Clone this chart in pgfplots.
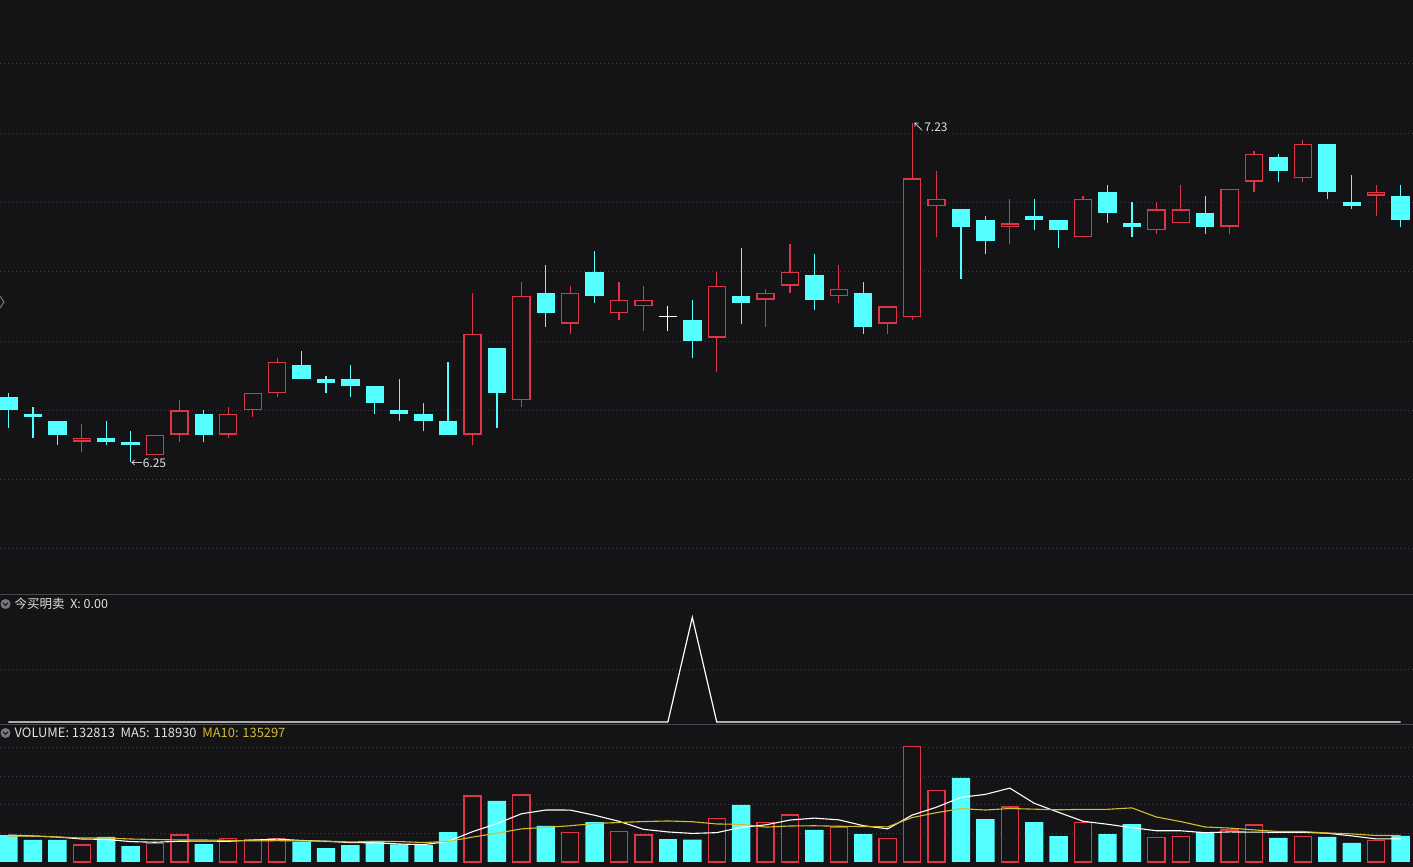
\documentclass[border=0pt]{standalone}
\usepackage{pgfplots}
\pgfplotsset{compat=1.18}
\usepackage{pgfplotstable}
\usepackage{fontspec}
\newfontfamily\cjk{Noto Sans CJK SC}
\definecolor{bg}{RGB}{20,19,21}
\definecolor{upc}{RGB}{222,52,72}
\definecolor{dnc}{RGB}{84,255,255}
\definecolor{gridc}{RGB}{60,60,64}
\definecolor{sepc}{RGB}{72,72,76}
\definecolor{txt}{RGB}{225,225,225}
\definecolor{ma10c}{RGB}{212,188,48}
\definecolor{iconc}{RGB}{120,120,124}

% i open high low close volume
\pgfplotstableread{
i o h l c v
3 6.31 6.36 6.28 6.32 86800
6 6.27 6.33 6.27 6.33 95500
7 6.33 6.43 6.31 6.40 137900
9 6.33 6.41 6.32 6.39 121100
10 6.40 6.45 6.38 6.45 112400
11 6.45 6.55 6.44 6.54 121100
19 6.33 6.74 6.30 6.62 337100
21 6.43 6.77 6.41 6.73 342200
23 6.65 6.76 6.62 6.74 151700
25 6.68 6.77 6.66 6.72 156800
26 6.70 6.76 6.63 6.72 137900
29 6.61 6.80 6.51 6.76 223200
31 6.72 6.75 6.64 6.74 202800
32 6.76 6.88 6.74 6.80 240100
34 6.73 6.82 6.71 6.75 178800
36 6.65 6.70 6.62 6.70 121100
37 6.67 7.23 6.66 7.07 591000
38 6.99 7.09 6.90 7.01 366200
41 6.93 7.01 6.88 6.94 280900
44 6.90 7.02 6.90 7.01 202800
47 6.92 7.00 6.91 6.98 126200
48 6.94 7.05 6.94 6.98 131300
50 6.93 7.04 6.91 7.04 163500
51 7.06 7.15 7.03 7.14 189000
53 7.07 7.18 7.06 7.17 131300
56 7.02 7.05 6.96 7.03 110800
}\uptab

\pgfplotstableread{
i o h l c v
0 6.44 6.45 6.35 6.40 137900
1 6.39 6.41 6.32 6.38 112400
2 6.37 6.37 6.30 6.33 112400
4 6.32 6.37 6.30 6.31 127700
5 6.31 6.34 6.25 6.30 81700
8 6.39 6.40 6.31 6.33 91900
12 6.53 6.57 6.49 6.49 103700
13 6.49 6.50 6.45 6.48 71500
14 6.49 6.53 6.44 6.47 86800
15 6.47 6.47 6.39 6.42 107300
16 6.40 6.49 6.37 6.39 90400
17 6.39 6.42 6.34 6.37 86800
18 6.37 6.54 6.33 6.33 153200
20 6.58 6.58 6.35 6.45 311600
22 6.74 6.82 6.64 6.68 183900
24 6.80 6.86 6.71 6.73 204300
28 6.66 6.72 6.55 6.60 113900
30 6.73 6.87 6.65 6.71 291200
33 6.79 6.85 6.69 6.72 163500
35 6.74 6.77 6.62 6.64 143000
39 6.98 6.98 6.78 6.93 429100
40 6.95 6.96 6.85 6.89 219600
42 6.96 7.01 6.92 6.95 204300
43 6.95 6.95 6.87 6.92 132800
45 7.03 7.05 6.94 6.97 143000
46 6.94 7.00 6.90 6.93 194100
49 6.97 7.02 6.91 6.93 153200
52 7.13 7.14 7.06 7.09 122600
54 7.17 7.17 7.01 7.03 127700
55 7.00 7.08 6.98 6.99 97100
57 7.02 7.05 6.93 6.95 132813
}\dntab

\pgfplotstableread{
i o h l c v
27 6.67 6.70 6.63 6.67 117500
}\dojitab

\pgfplotstableread{
i ma5 ma10
0 137900 132800
1 132800 132800
2 127700 127700
3 117500 122600
4 115400 122600
5 104200 117500
6 100800 114900
7 105900 112400
8 107000 112400
9 105600 110500
10 111800 108000
11 116900 108900
12 110000 108000
13 105900 106500
14 99100 102400
15 98100 104900
16 91900 104400
17 88600 99300
18 104900 105400
19 155000 127000
20 195800 147000
21 246200 169100
22 265600 177100
23 265300 185100
24 238700 196900
25 207800 201800
26 166900 206600
27 153600 209600
28 146100 205700
29 149900 194300
30 176700 192300
31 189700 178300
32 214200 183900
33 224100 185100
34 215300 182600
35 185600 181200
36 169300 179500
37 239500 226800
38 280000 252100
39 330100 272700
40 345400 265500
41 377400 273300
42 300000 269800
43 253400 266700
44 208100 269100
45 192800 269100
46 175400 276400
47 159800 229900
48 159500 206400
49 149600 178800
50 153600 173200
51 152600 164000
52 151900 155800
53 151900 155700
54 146800 148200
55 133500 143600
56 117900 135300
57 118930 135297
}\matab

\pgfplotsset{
  panel/.style={
    scale only axis, width=1413pt,
    xmin=-0.348, xmax=57.51,
    axis line style={draw=none},
    major tick length=0pt, tick style={draw=none},
    xtick=\empty, yticklabels={},
    scaled y ticks=false, scaled x ticks=false,
    ymajorgrids,
    grid style={gridc, line width=1pt, dash pattern=on 1pt off 3pt},
  },
  wick/.style={draw=none, mark=none, no markers,
    error bars/.cd, y dir=plus, y explicit, error mark=none,
    error bar style={line width=1.2pt, draw=#1, solid}},
  body/.style 2 args={draw=none, mark=none, no markers,
    error bars/.cd, y dir=plus, y explicit, error mark=none,
    error bar style={line width=#1, draw=#2, solid}},
}

\begin{document}
\begin{tikzpicture}[x=1pt,y=1pt]
\fill[bg] (0,0) rectangle (1413,867);
\useasboundingbox (0,0) rectangle (1413,867);

% ---------------- price panel ----------------
\begin{axis}[panel, at={(0pt,272pt)}, anchor=south west, height=595pt,
  ymin=5.8672, ymax=7.5844, ytick={6.0,6.2,6.4,6.6,6.8,7.0,7.2,7.4}]
  % wicks
  \addplot[wick=dnc] table[x=i, y=l, y error plus expr=\thisrow{h}-\thisrow{l}] \dntab;
  \addplot[wick=upc] table[x=i, y=l, y error plus expr=\thisrow{h}-\thisrow{l}] \uptab;
  \addplot[wick=white] table[x=i, y=l, y error plus expr=\thisrow{h}-\thisrow{l}] \dojitab;
  % bodies
  \addplot[body={18.4pt}{dnc}] table[x=i, y=c, y error plus expr=\thisrow{o}-\thisrow{c}] \dntab;
  \addplot[body={18.4pt}{upc}] table[x=i, y=o, y error plus expr=\thisrow{c}-\thisrow{o}] \uptab;
  \addplot[body={15.8pt}{bg}] table[x=i, y expr=\thisrow{o}+0.0037, y error plus expr=\thisrow{c}-\thisrow{o}-0.0074] \uptab;
  \addplot[white, only marks, mark=-, mark size=9.2pt, mark options={line width=1.2pt}] table[x=i, y=o] \dojitab;
  % extreme labels
  \node[anchor=west, inner sep=0pt, text=txt, font=\cjk\fontsize{12}{12}\selectfont] at (axis cs:5,6.2485) {←6.25};
  \node[anchor=west, inner sep=0pt, text=txt, font=\cjk\fontsize{12}{12}\selectfont] at (axis cs:37,7.2165) {↖7.23};
\end{axis}

% ---------------- indicator panel ----------------
\begin{axis}[panel, at={(0pt,142pt)}, anchor=south west, height=130pt,
  ymin=-0.0287, ymax=1.213, ytick={0.5}]
  \addplot[white, line width=1.2pt, mark=none, no markers] coordinates {
   (0,0) (1,0) (2,0) (3,0) (4,0) (5,0) (6,0) (7,0) (8,0) (9,0)
   (10,0) (11,0) (12,0) (13,0) (14,0) (15,0) (16,0) (17,0) (18,0) (19,0)
   (20,0) (21,0) (22,0) (23,0) (24,0) (25,0) (26,0) (27,0) (28,1) (29,0)
   (30,0) (31,0) (32,0) (33,0) (34,0) (35,0) (36,0) (37,0) (38,0) (39,0)
   (40,0) (41,0) (42,0) (43,0) (44,0) (45,0) (46,0) (47,0) (48,0) (49,0)
   (50,0) (51,0) (52,0) (53,0) (54,0) (55,0) (56,0) (57,0)};
\end{axis}

% ---------------- volume panel ----------------
\begin{axis}[panel, at={(0pt,0pt)}, anchor=south west, height=142pt,
  ymin=-25540, ymax=699800, ytick={145600,291200,436800,582400}]
  \addplot[ybar, bar width=18.4pt, bar shift=0pt, fill=dnc, draw=none] table[x=i, y=v] \dntab;
  \addplot[ybar, bar width=18.4pt, bar shift=0pt, fill=dnc, draw=none] table[x=i, y=v] \dojitab;
  \addplot[ybar, bar width=17.1pt, bar shift=0pt, fill=bg, draw=upc, line width=1.3pt] table[x=i, y=v] \uptab;
  \addplot[white, line width=1.1pt, mark=none, no markers] table[x=i, y=ma5] \matab;
  \addplot[ma10c, line width=1.1pt, mark=none, no markers] table[x=i, y=ma10] \matab;
\end{axis}

% separators and headers
\draw[sepc, line width=1pt] (0,272) -- (1413,272);
\draw[sepc, line width=1pt] (0,142.3) -- (1413,142.3);
\draw[iconc, line width=1pt] (0,571) -- (4,565) -- (0,559);

\fill[iconc] (5.5,263) circle (5);
\draw[bg, line width=1.1pt] (3,264.2) -- (5.5,261.6) -- (8,264.2);
\node[anchor=west, inner sep=0pt, text=txt, font=\cjk\fontsize{12.5}{13}\selectfont] at (14.5,263.5) {今买明卖\ \ X: 0.00};

\fill[iconc] (5.5,134) circle (5);
\draw[bg, line width=1.1pt] (3,135.2) -- (5.5,132.6) -- (8,135.2);
\node[anchor=west, inner sep=0pt, text=txt, font=\cjk\fontsize{12.9}{14}\selectfont] at (14.5,134.5) {VOLUME: 132813\ \ MA5: 118930\ \ \textcolor{ma10c}{MA10: 135297}};
\end{tikzpicture}
\end{document}
